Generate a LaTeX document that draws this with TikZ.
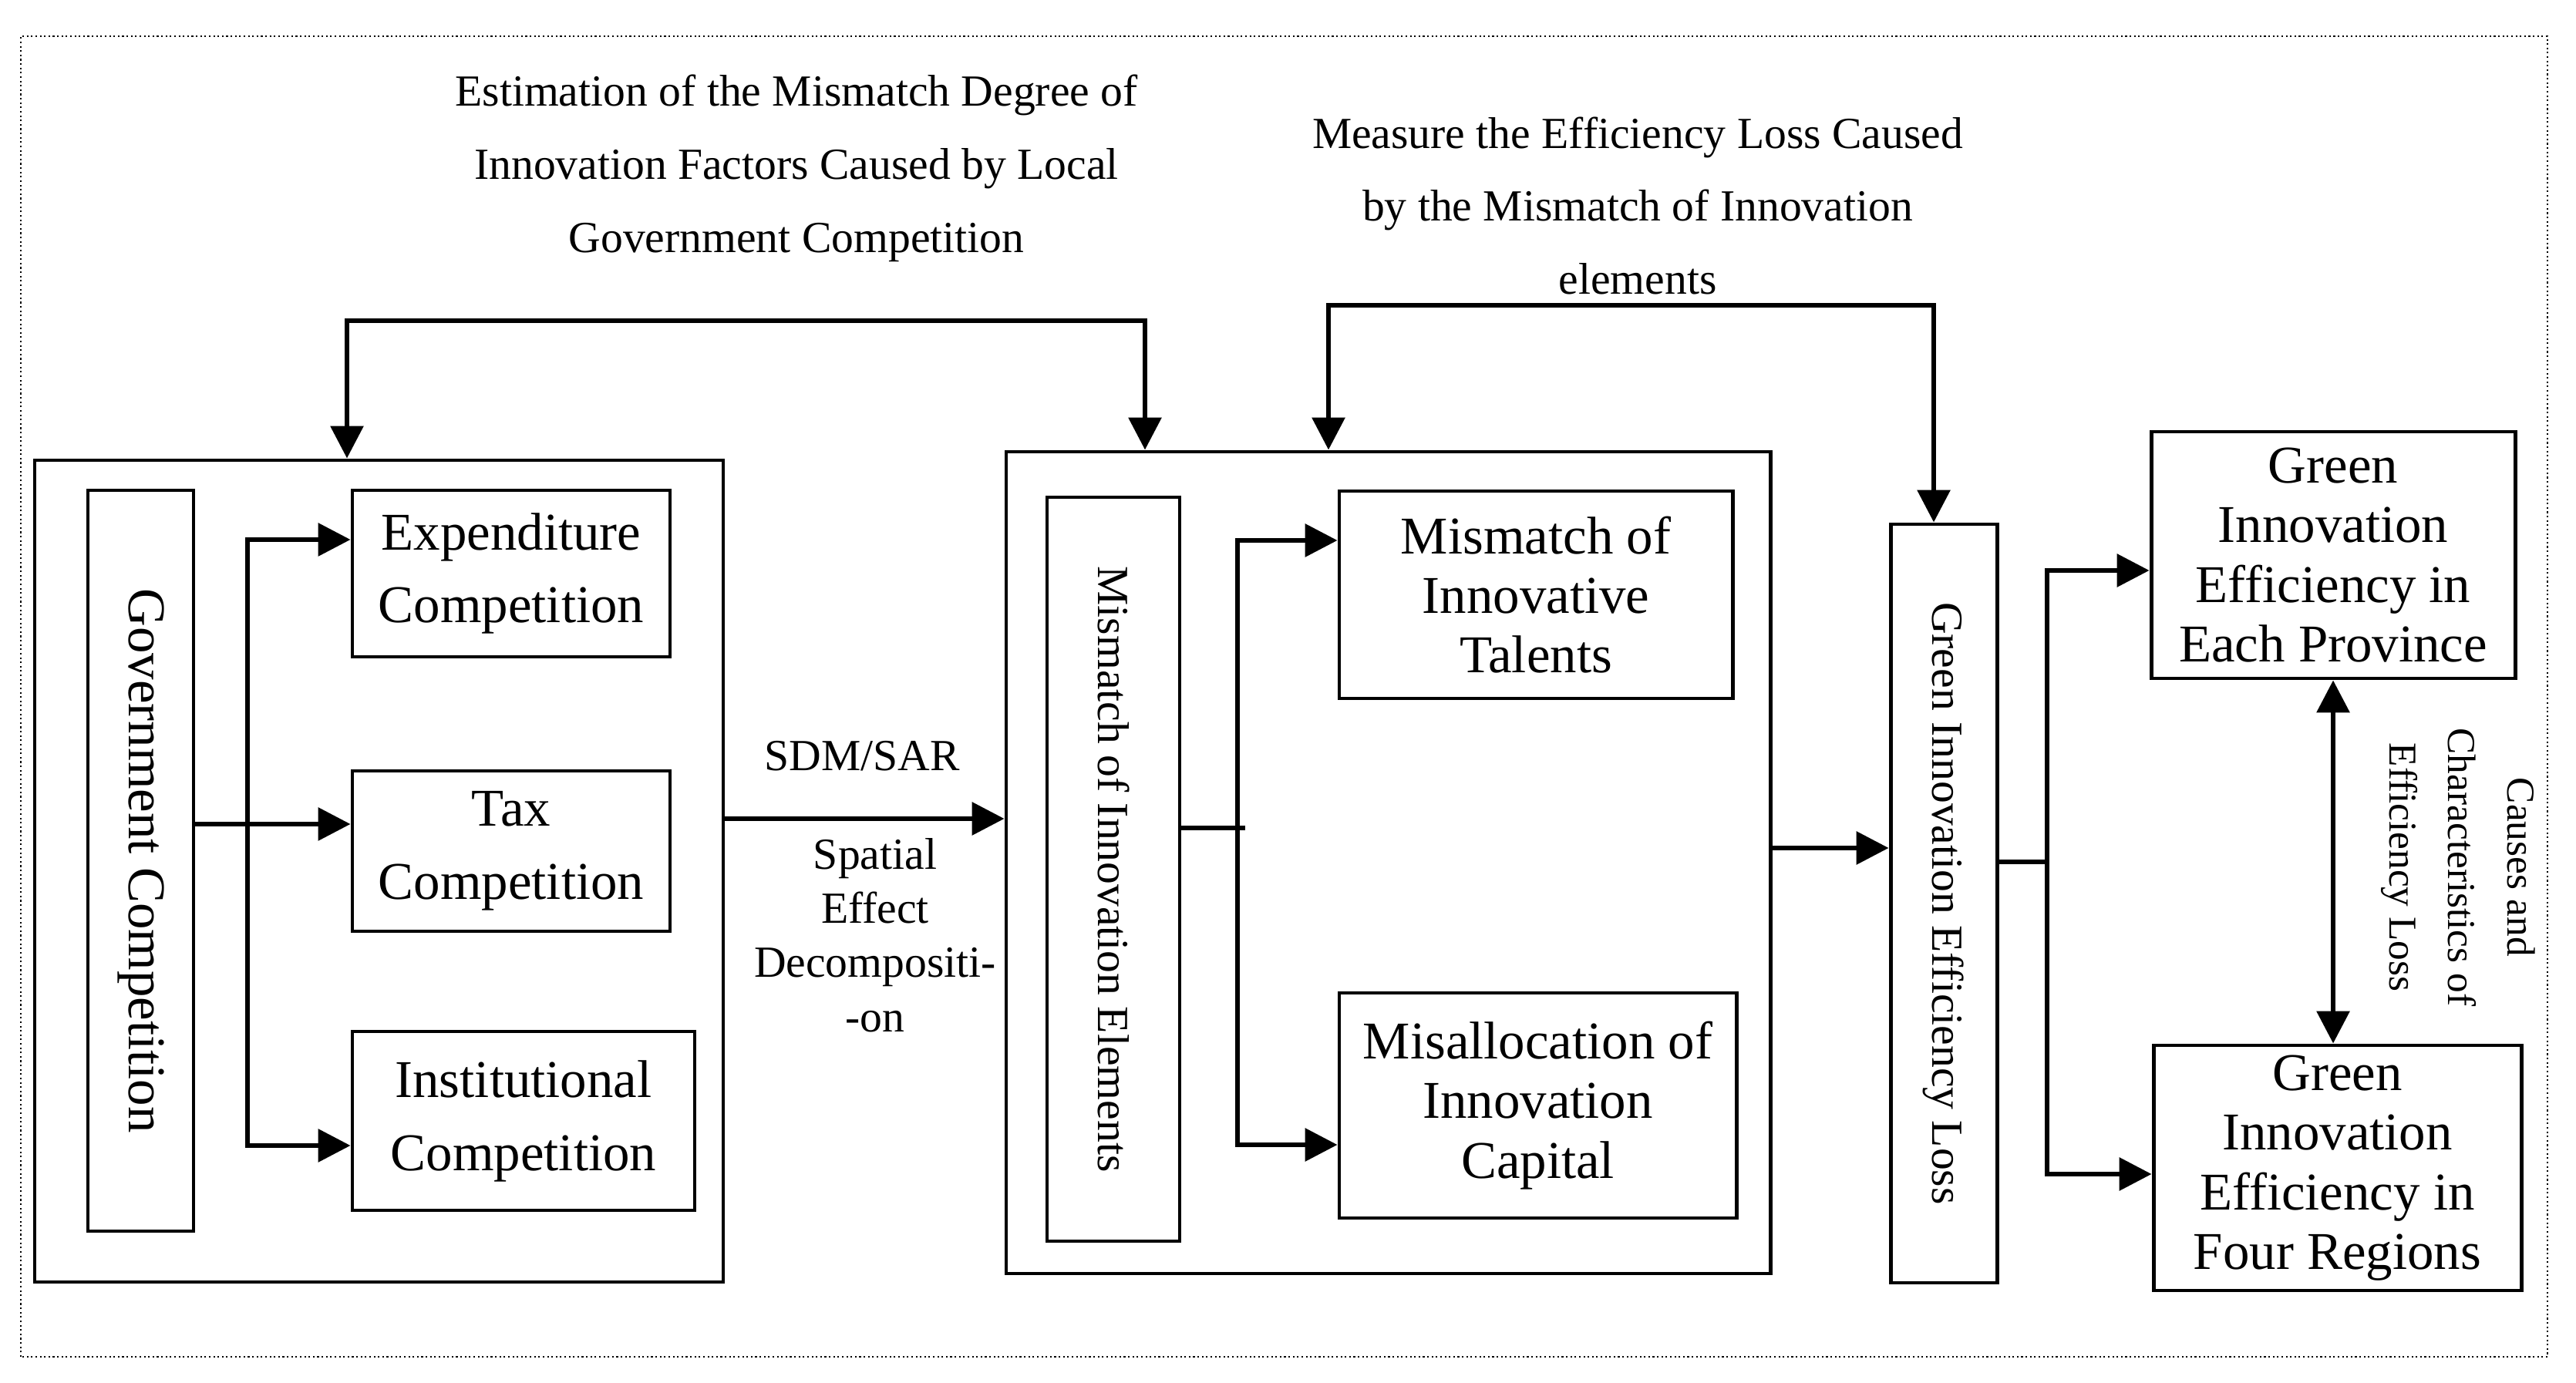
\documentclass[tikz,border=0pt]{standalone}
\usepackage{fontspec}
\usepackage{graphicx}
\setmainfont{Liberation Serif}
\usetikzlibrary{arrows.meta}
\begin{document}
\begin{tikzpicture}
    [box/.style = {draw, line width = 1.4pt, inner sep = 0pt, align = center},
    big/.style = {font = \fontsize{19.6}{27}\selectfont},
    mid/.style = {font = \fontsize{19.6}{22}\selectfont},
    small/.style = {font = \fontsize{16.4}{27}\selectfont, align = center},
    link/.style = {line width = 1.8pt},
    tip/.style = {link, -{Triangle[length = 4.2mm, width = 4.2mm]}},
    tips/.style = {link, {Triangle[length = 4.2mm, width = 4.2mm]}-{Triangle[length = 4.2mm, width = 4.2mm]}}]
    \useasboundingbox (0, 0) rectangle (33.41, 17.93);
    \draw[densely dotted, line width = 0.6pt] (0.27, 0.33) rectangle (33.04, 17.46);
    \node[box, minimum width = 8.93cm, minimum height = 10.66cm] (comp) at (4.915, 6.63) {};
    \node[box, big, minimum width = 1.37cm, minimum height = 9.61cm] (gov) at (1.825, 6.765) {\rotatebox{-90}{Government Competition}};
    \node[box, big, minimum width = 4.12cm, minimum height = 2.16cm] (expend) at (6.63, 10.49) {Expenditure\\Competition};
    \node[box, big, minimum width = 4.12cm, minimum height = 2.08cm] (tax) at (6.63, 6.89) {Tax\\Competition};
    \node[box, big, minimum width = 4.44cm, minimum height = 2.32cm] (inst) at (6.79, 3.39) {Institutional\\Competition};
    \node[box, minimum width = 9.91cm, minimum height = 10.66cm] (mis) at (18.005, 6.74) {};
    \node[box, small, minimum width = 1.72cm, minimum height = 9.65cm] (miselem) at (14.44, 6.655) {\rotatebox{-90}{Mismatch of Innovation Elements}};
    \node[box, mid, minimum width = 5.10cm, minimum height = 2.69cm] (talent) at (19.92, 10.215) {Mismatch of\\Innovative\\Talents};
    \node[box, mid, minimum width = 5.15cm, minimum height = 2.92cm] (capital) at (19.945, 3.59) {Misallocation of\\Innovation\\Capital};
    \node[box, small, minimum width = 1.38cm, minimum height = 9.84cm] (loss) at (25.21, 6.21) {\rotatebox{-90}{Green Innovation Efficiency Loss}};
    \node[box, mid, minimum width = 4.72cm, minimum height = 3.20cm] (prov) at (30.26, 10.73) {Green\\Innovation\\Efficiency in\\Each Province};
    \node[box, mid, minimum width = 4.77cm, minimum height = 3.18cm] (region) at (30.315, 2.78) {Green\\Innovation\\Efficiency in\\Four Regions};
    \node[small] (est) at (10.33, 15.75) {Estimation of the Mismatch Degree of\\Innovation Factors Caused by Local\\Government Competition};
    \node[small] (meas) at (21.24, 15.26) {Measure the Efficiency Loss Caused\\by the Mismatch of Innovation\\elements};
    \node[small] (sdm) at (11.18, 8.12) {SDM/SAR};
    \node[small, font = \fontsize{16.4}{20}\selectfont] (sed) at (11.35, 5.80) {Spatial\\Effect\\Decompositi-\\-on};
    \node[rotate = -90, align = center, font = \fontsize{14.6}{21.8}\selectfont] (cause) at (31.88, 6.68) {Causes and\\Characteristics of\\Efficiency Loss};
    \coordinate (ta) at (4.5, 13.77); \coordinate (tb) at (14.85, 13.77);
    \coordinate (tc) at (17.23, 13.97); \coordinate (td) at (25.08, 13.97);
    \draw[tips] (ta |- comp.north) -- (ta) -- (tb) -- (tb |- mis.north);
    \draw[tips] (tc |- mis.north) -- (tc) -- (td) -- (td |- loss.north);
    \coordinate (ga) at (3.21, 10.93); \coordinate (gb) at (3.21, 3.07); \coordinate (gt) at (3.21, 7.24);
    \draw[tips] (ga -| expend.west) -- (ga) -- (gb) -- (gb -| inst.west);
    \draw[tip] (gt -| gov.east) -- (gt -| tax.west);
    \coordinate (sa) at (11, 7.31);
    \draw[tip] (sa -| comp.east) -- (sa -| mis.west);
    \coordinate (ma) at (16.05, 10.92); \coordinate (mb) at (16.05, 3.08); \coordinate (ms) at (16.15, 7.19);
    \draw[tips] (ma -| talent.west) -- (ma) -- (mb) -- (mb -| capital.west);
    \draw[link] (ms -| miselem.east) -- (ms);
    \coordinate (la) at (23.7, 6.93);
    \draw[tip] (la -| mis.east) -- (la -| loss.west);
    \coordinate (ra) at (26.55, 10.53); \coordinate (rb) at (26.55, 2.70); \coordinate (rs) at (26.55, 6.75);
    \draw[tips] (ra -| prov.west) -- (ra) -- (rb) -- (rb -| region.west);
    \draw[link] (rs -| loss.east) -- (rs);
    \draw[tips] (prov.south) -- (prov.south |- region.north);
\end{tikzpicture}
\end{document}
